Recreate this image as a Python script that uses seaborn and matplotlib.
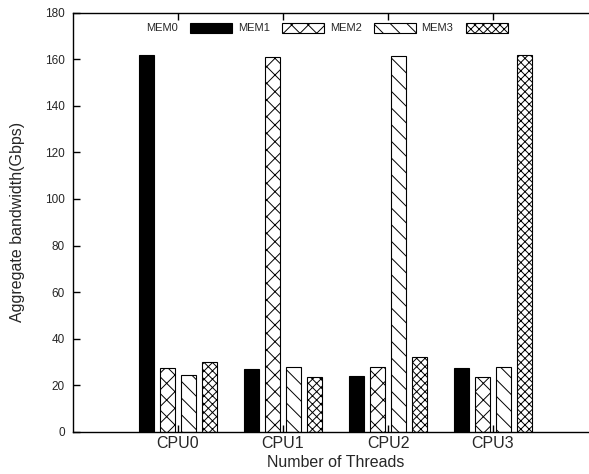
import matplotlib
matplotlib.use("Agg")
import matplotlib.pyplot as plt
import seaborn as sns
import pandas as pd
from matplotlib.patches import Patch

# Aggregate bandwidth per CPU socket, one series per memory node
cpus = ["CPU0", "CPU1", "CPU2", "CPU3"]
mems = ["MEM0", "MEM1", "MEM2", "MEM3"]
mem0 = [161.8, 26.9, 24.1, 27.4]
mem1 = [27.4, 161.0, 27.8, 23.5]
mem2 = [24.5, 27.8, 161.5, 27.8]
mem3 = [30.2, 23.5, 32.1, 161.8]
yticks = [0, 20, 40, 60, 80, 100, 120, 140, 160, 180]

series = {"MEM0": mem0, "MEM1": mem1, "MEM2": mem2, "MEM3": mem3}
df = pd.DataFrame(
    [(c, m, v) for m in mems for c, v in zip(cpus, series[m])],
    columns=["cpu", "mem", "bw"],
)

sns.set_style("ticks")
plt.rcParams["font.family"] = ["Liberation Sans", "DejaVu Sans"]
plt.rcParams["hatch.linewidth"] = 0.7
plt.rcParams["hatch.color"] = "black"

W, H = 589, 474
fig = plt.figure(figsize=(W / 100, H / 100), dpi=100)
ax = fig.add_axes([73 / W, 42 / H, 525 / W, 419.5 / H])

styles = {
    "MEM0": dict(fc="black", hatch=""),
    "MEM1": dict(fc="white", hatch="xx"),
    "MEM2": dict(fc="white", hatch="\\\\"),
    "MEM3": dict(fc="white", hatch="xxxx"),
}
palette = {m: styles[m]["fc"] for m in mems}

sns.barplot(
    data=df, x="cpu", y="bw", hue="mem", order=cpus, hue_order=mems,
    palette=palette, width=0.8, gap=0.25, saturation=1,
    edgecolor="black", linewidth=0.8, legend=False, ax=ax,
)

# seaborn adds bars hue level by hue level
for i, p in enumerate(ax.patches):
    m = mems[i // len(cpus)]
    p.set_hatch(styles[m]["hatch"])
    p.set_facecolor(styles[m]["fc"])
    p.set_edgecolor("black")

ax.set_xlim(-1, 4)
ax.set_ylim(0, 180)
ax.set_yticks(yticks)
ax.tick_params(axis="x", which="major", direction="in", length=5,
               width=1.0, color="black", top=True, bottom=True,
               labelsize=11.5, pad=3)
ax.tick_params(axis="y", which="major", direction="in", length=5,
               width=1.0, color="black", left=True, right=False,
               labelsize=8.5, pad=6)
for s in ax.spines.values():
    s.set_linewidth(1.0)
    s.set_color("black")

ax.set_xlabel("Number of Threads", fontsize=11.5, labelpad=3)
ax.set_ylabel("Aggregate bandwidth(Gbps)", fontsize=11.5, labelpad=14)

handles = [
    Patch(facecolor=styles[m]["fc"], edgecolor="black", hatch=styles[m]["hatch"],
          linewidth=0.8, label=m)
    for m in mems
]
fig.legend(
    handles=handles, loc="center", bbox_to_anchor=(327 / W, 1 - 28 / H),
    ncol=4, frameon=False, markerfirst=False, fontsize=8,
    handlelength=3.8, handleheight=1.0, handletextpad=1.1, columnspacing=0.5,
)

fig.savefig("out.png", dpi=100)
